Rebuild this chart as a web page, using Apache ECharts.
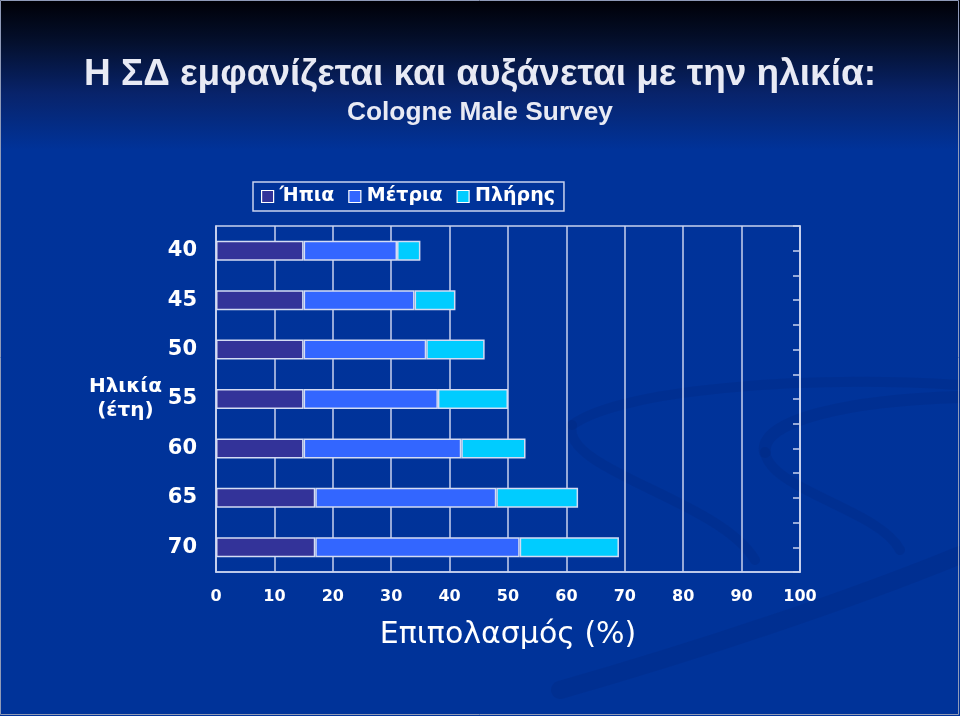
<!DOCTYPE html>
<html><head><meta charset="utf-8">
<script src="https://cdn.jsdelivr.net/npm/echarts@6/dist/echarts.min.js"></script>
<style>html,body{margin:0;padding:0;background:#003399;}#c{width:960px;height:716px;}</style>
</head><body><div id="c"></div>
<script>
const ages = ['40','45','50','55','60','65','70'];
const mild = [15,15,15,15,15,17,17];
const moderate = [16,19,21,23,27,31,35];
const complete = [4,7,10,12,11,14,17];
const seriesNames = ['Ήπια','Μέτρια','Πλήρης'];
const xTicks = [0,10,20,30,40,50,60,70,80,90,100];
const titleText = 'Η ΣΔ εμφανίζεται και αυξάνεται με την ηλικία:';
const subText = 'Cologne Male Survey';

function fitScale(text, font, target){
  const c = document.createElement('canvas').getContext('2d');
  c.font = font;
  return target / c.measureText(text).width;
}
const titleFont = 'bold 36px "Liberation Sans"';
const subFont = 'bold 25px "Liberation Sans"';
const tScale = fitScale(titleText, titleFont, 792);
const sScale = fitScale(subText, subFont, 266);

const chart = echarts.init(document.getElementById('c'));
const lineCol = '#c8d2ee';
const barBorder = '#d4dcf4';
const mk = (name, data, color) => ({
  name, type:'bar', stack:'s', data, barWidth:20,
  itemStyle:{color, borderColor:barBorder, borderWidth:1.5},
  emphasis:{disabled:true}
});
const swoosh = 'rgba(0,28,105,0.16)';
const bz = (x1,y1,cx1,cy1,cx2,cy2,x2,y2,w) => ({type:'bezierCurve', shape:{x1,y1,cpx1:cx1,cpy1:cy1,cpx2:cx2,cpy2:cy2,x2,y2}, style:{fill:'none', stroke:swoosh, lineWidth:w, lineCap:'round'}});
chart.setOption({
  backgroundColor:{type:'linear',x:0,y:0,x2:0,y2:1,colorStops:[
    {offset:0,color:'#000006'},{offset:0.06,color:'#04102e'},{offset:0.13,color:'#08236a'},{offset:0.21,color:'#00339a'},{offset:1,color:'#003399'}]},
  animation:false,
  legend:{
    data:seriesNames, left:253, top:182, itemWidth:12, itemHeight:12, itemGap:14,
    padding:[5,9,5,8], borderColor:'#c8d2ee', borderWidth:1.5, selectedMode:false,
    icon:'rect',
    itemStyle:{borderColor:'#ffffff', borderWidth:1.2},
    textStyle:{fontFamily:'DejaVu Sans', fontWeight:'bold', fontSize:19, color:'#ffffff', padding:[0,0,0,1]}
  },
  grid:{left:216, right:160, top:226, bottom:144, show:true, borderColor:lineCol, borderWidth:1.5, backgroundColor:'transparent'},
  xAxis:{type:'value', min:0, max:100, interval:10,
    axisLine:{show:true, lineStyle:{color:lineCol, width:1.5}},
    axisTick:{show:false},
    splitLine:{show:true, lineStyle:{color:lineCol, width:1.5}},
    axisLabel:{color:'#ffffff', fontFamily:'DejaVu Sans', fontWeight:'bold', fontSize:16, margin:17,
      formatter:v=>xTicks.includes(v)?String(v):''},
    name:'Επιπολασμός (%)', nameLocation:'middle', nameGap:48,
    nameTextStyle:{color:'#ffffff', fontFamily:'DejaVu Sans', fontSize:30}
  },
  yAxis:[
    {type:'category', data:ages, inverse:true,
     axisLine:{show:true, lineStyle:{color:lineCol, width:1.5}},
     axisTick:{show:false},
     axisLabel:{color:'#ffffff', fontFamily:'DejaVu Sans', fontWeight:'bold', fontSize:21, margin:19},
     name:'Ηλικία\n(έτη)', nameLocation:'middle', nameGap:72, nameRotate:0,
     nameTextStyle:{color:'#ffffff', fontFamily:'DejaVu Sans', fontWeight:'bold', fontSize:20, lineHeight:24, align:'center'}
    },
    {type:'value', min:0, max:14, interval:1, position:'right',
     axisLine:{show:true, lineStyle:{color:lineCol, width:1.5}},
     axisTick:{show:true, inside:true, length:7, lineStyle:{color:lineCol, width:1.5}},
     axisLabel:{show:false}, splitLine:{show:false}}
  ],
  series:[mk(seriesNames[0], mild, '#333399'), mk(seriesNames[1], moderate, '#3366ff'), mk(seriesNames[2], complete, '#00ccff')],
  graphic:[
    {type:'group', z:-10, silent:true, children:[
      bz(960,385, 800,375, 620,390, 572,425, 10),
      bz(572,425, 560,470, 720,500, 755,560, 10),
      bz(960,397, 850,400, 760,420, 765,452, 12),
      bz(765,452, 770,490, 880,510, 900,550, 10),
      bz(560,690, 700,650, 850,600, 960,555, 18)
    ]},
    {type:'text', x:480, y:75, scaleX:tScale, style:{text:titleText, font:titleFont, fill:'#e8eaf4', align:'center', verticalAlign:'middle'}, silent:true},
    {type:'text', x:480, y:113, scaleX:sScale, style:{text:subText, font:subFont, fill:'#e8eaf4', align:'center', verticalAlign:'middle'}, silent:true},
    {type:'rect', shape:{x:0.5,y:0.5,width:958,height:714}, style:{fill:'none', stroke:'#8f9ab8', lineWidth:1}, silent:true}
  ]
});
</script></body></html>
